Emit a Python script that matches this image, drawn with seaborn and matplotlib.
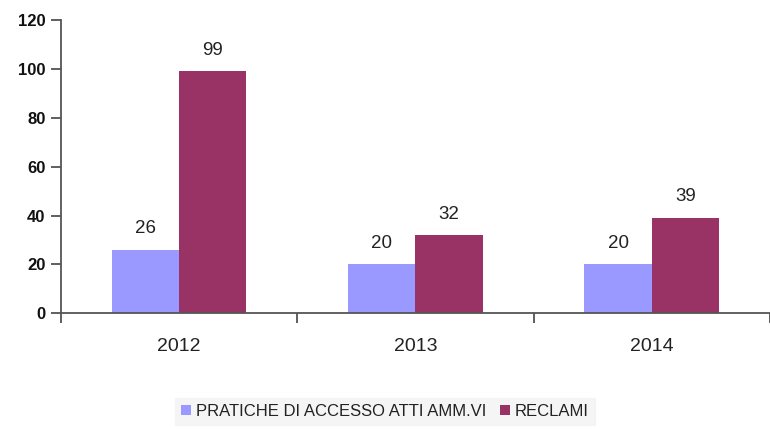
import matplotlib
matplotlib.use("Agg")
import matplotlib.pyplot as plt
import seaborn as sns
import pandas as pd

years = ["2012", "2013", "2014"]
series_names = ["PRATICHE DI ACCESSO ATTI AMM.VI", "RECLAMI"]
pratiche = [26, 20, 20]
reclami = [99, 32, 39]
colors = ["#9999FF", "#993366"]

df = pd.DataFrame({
    "anno": years * 2,
    "serie": [series_names[0]] * 3 + [series_names[1]] * 3,
    "valore": pratiche + reclami,
})

sns.set_theme(style="white")
plt.rcParams["font.family"] = ["Liberation Sans", "DejaVu Sans"]

fig = plt.figure(figsize=(7.7, 4.29), dpi=100)
ax = fig.add_axes([0.079, 0.270, 0.921, 0.683])

sns.barplot(data=df, x="anno", y="valore", hue="serie", palette=colors,
            width=0.57, gap=0, saturation=1, linewidth=0, ax=ax, legend=True)

for container in ax.containers:
    ax.bar_label(container, fmt="%d", padding=9, fontsize=13.5, color="#222222")

ax.set_ylim(0, 120)
ax.set_xlim(-0.5, 2.5)
ax.set_yticks(range(0, 121, 20))
ax.set_xlabel("")
ax.set_ylabel("")

for lbl in ax.get_yticklabels():
    lbl.set_fontweight("bold")
ax.tick_params(axis="y", which="major", direction="out", length=7, width=1.2,
               color="#444444", labelsize=12, labelcolor="#111111", left=True, pad=4)
ax.tick_params(axis="x", which="major", length=0, labelsize=14, labelcolor="#222222", pad=18)
ax.set_xticks([-0.5, 0.5, 1.5, 2.5], minor=True)
ax.tick_params(axis="x", which="minor", direction="out", length=7, width=1.2,
               color="#444444", bottom=True)

for side in ["top", "right"]:
    ax.spines[side].set_visible(False)
for side in ["left", "bottom"]:
    ax.spines[side].set_color("#555555")
    ax.spines[side].set_linewidth(1.3)

leg = ax.legend(loc="center", bbox_to_anchor=(0.457, -0.335),
                ncol=2, frameon=True, fontsize=12, handlelength=0.6, handleheight=0.6,
                handletextpad=0.3, columnspacing=0.8, borderpad=0.35)
leg.get_frame().set_facecolor("#F3F3F3")
leg.get_frame().set_edgecolor("#F3F3F3")
leg.get_frame().set_boxstyle("square", pad=0)
for txt in leg.get_texts():
    txt.set_color("#222222")

fig.savefig("out.png", dpi=100, facecolor="white")
